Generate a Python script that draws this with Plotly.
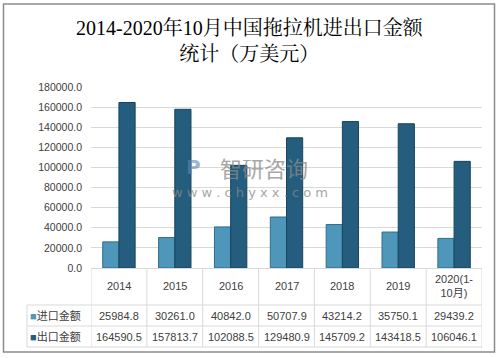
import plotly.graph_objects as go

categories = ["2014", "2015", "2016", "2017", "2018", "2019", "2020(1-10月)"]
header_labels = ["2014", "2015", "2016", "2017", "2018", "2019", "2020(1-<br>10月)"]
import_values = [25984.8, 30261.0, 40842.0, 50707.9, 43214.2, 35750.1, 29439.2]
export_values = [164590.5, 157813.7, 102088.5, 129480.9, 145709.2, 143418.5, 106046.1]
series_names = ["进口金额", "出口金额"]
import_color = "#4f97ba"
export_color = "#245d7d"

W, H = 501, 358
L, R, T, B = 91, 19, 87, 90
pw, ph = W - L - R, H - T - B


def px(x):
    return (x - L) / pw


def py(y):
    return (H - B - y) / ph


fig = go.Figure()
fig.add_trace(go.Bar(x=categories, y=import_values, name=series_names[0],
                     marker=dict(color=import_color, line=dict(color="#2f6d8c", width=1))))
fig.add_trace(go.Bar(x=categories, y=export_values, name=series_names[1],
                     marker=dict(color=export_color, line=dict(color="#17455e", width=1))))

tfont = dict(family="Liberation Sans, Noto Sans CJK SC", size=11, color="#404040")
ann = []
# title
ann.append(dict(text="2014-2020年10月中国拖拉机进出口金额<br>统计（万美元）", xref="paper", yref="paper",
                x=px(250), y=py(41), xanchor="center", yanchor="middle", showarrow=False,
                font=dict(family="Liberation Serif, Noto Serif CJK SC, Noto Sans CJK SC", size=20, color="#000000")))
# watermark
ann.append(dict(text="智研咨询", xref="paper", yref="paper", x=px(264), y=py(167), xanchor="center",
                yanchor="middle", showarrow=False,
                font=dict(family="Noto Sans CJK SC", size=22, color="#8a8a8a"), opacity=0.75))
ann.append(dict(text="w w w . c h y x x . c o m", xref="paper", yref="paper", x=px(250), y=py(192),
                xanchor="center", yanchor="middle", showarrow=False,
                font=dict(family="DejaVu Sans", size=13, color="#8a8a8a"), opacity=0.75))
ann.append(dict(text="<b>P</b>", xref="paper", yref="paper", x=px(193), y=py(167), xanchor="center",
                yanchor="middle", showarrow=False,
                font=dict(family="DejaVu Sans", size=20, color="#5b86b8"), opacity=0.6))

for i, c in enumerate(categories):
    for txt, yy in [(header_labels[i], 286), (f"{import_values[i]:.1f}", 315.5), (f"{export_values[i]:.1f}", 336.5)]:
        ann.append(dict(text=txt, x=i, xref="x", yref="paper", y=py(yy), xanchor="center", yanchor="middle",
                        showarrow=False, font=tfont))

for name, col, yy in [(series_names[0], import_color, 315.5), (series_names[1], export_color, 336.5)]:
    ann.append(dict(text=f"<span style='color:{col}'>■</span>{name}", xref="paper", yref="paper",
                    x=px(28), y=py(yy), xanchor="left", yanchor="middle", showarrow=False, font=tfont))

lc = "#d9d9d9"
shapes = []
for yy in [305, 326, 347]:
    shapes.append(dict(type="line", xref="paper", yref="paper", x0=px(27), x1=1, y0=py(yy), y1=py(yy),
                       line=dict(color=lc, width=1)))
for k in range(len(categories) + 1):
    shapes.append(dict(type="line", xref="x", yref="paper", x0=k - 0.5, x1=k - 0.5, y0=0, y1=py(347),
                       line=dict(color=lc, width=1)))
shapes.append(dict(type="line", xref="paper", yref="paper", x0=px(27), x1=px(27), y0=py(305), y1=py(347),
                   line=dict(color=lc, width=1)))
# outer frame
shapes.append(dict(type="rect", xref="paper", yref="paper", x0=px(3.5), x1=px(494.5), y0=py(4), y1=py(352),
                   line=dict(color="#8c8c8c", width=1.5), layer="below"))

fig.update_layout(
    width=W, height=H, margin=dict(l=L, r=R, t=T, b=B),
    paper_bgcolor="white", plot_bgcolor="white",
    barmode="group", bargap=0.42, bargroupgap=0,
    showlegend=False, annotations=ann, shapes=shapes,
    xaxis=dict(type="category", range=[-0.5, 6.5], showticklabels=False, showgrid=False,
               showline=True, linecolor=lc, ticks=""),
    yaxis=dict(range=[0, 180000], dtick=20000, tickformat=".1f", showgrid=True, gridcolor=lc,
               zeroline=False, ticks="", ticklabelstandoff=8,
               tickfont=dict(family="Liberation Sans", size=10.5, color="#404040")),
)
fig.write_html("out.html", config={"displayModeBar": False},
               post_script="document.body.style.margin='0';")
